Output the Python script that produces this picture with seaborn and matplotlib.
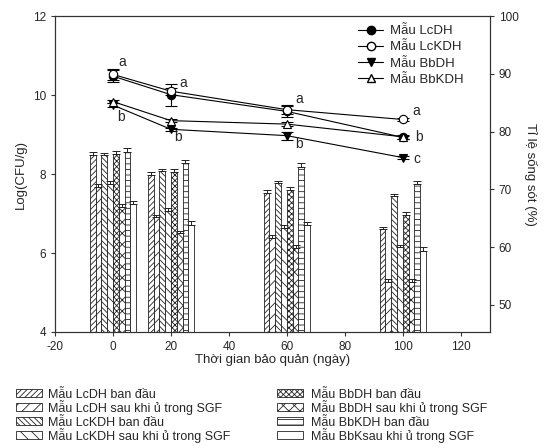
import matplotlib
matplotlib.use("Agg")
import matplotlib.pyplot as plt
from matplotlib.patches import Rectangle
from matplotlib.lines import Line2D
import pandas as pd
import seaborn as sns

# Storage days
days = [0, 20, 60, 100]

# Log(CFU/g) bars, left axis
lcdh_bd = [8.48, 7.98, 7.52, 6.60]
lcdh_sgf = [7.68, 6.90, 6.38, 5.27]
lckdh_bd = [8.48, 8.07, 7.77, 7.44]
lckdh_sgf = [7.76, 7.07, 6.63, 6.15]
bbdh_bd = [8.52, 8.05, 7.60, 6.96]
bbdh_sgf = [7.17, 6.50, 6.13, 5.27]
bbkdh_bd = [8.57, 8.28, 8.17, 7.74]
bbk_sgf = [7.25, 6.72, 6.70, 6.06]

lcdh_bd_err = [0.07, 0.08, 0.08, 0.07]
lcdh_sgf_err = [0.06, 0.06, 0.07, 0.06]
lckdh_bd_err = [0.06, 0.07, 0.06, 0.06]
lckdh_sgf_err = [0.07, 0.07, 0.08, 0.06]
bbdh_bd_err = [0.07, 0.07, 0.08, 0.07]
bbdh_sgf_err = [0.06, 0.06, 0.07, 0.06]
bbkdh_bd_err = [0.09, 0.08, 0.10, 0.08]
bbk_sgf_err = [0.07, 0.10, 0.08, 0.09]

bar_names = ["Mẫu LcDH ban đầu", "Mẫu LcDH sau khi ủ trong SGF",
             "Mẫu LcKDH ban đầu", "Mẫu LcKDH sau khi ủ trong SGF",
             "Mẫu BbDH ban đầu", "Mẫu BbDH sau khi ủ trong SGF",
             "Mẫu BbKDH ban đầu", "Mẫu BbKsau khi ủ trong SGF"]
bar_vals = [lcdh_bd, lcdh_sgf, lckdh_bd, lckdh_sgf, bbdh_bd, bbdh_sgf, bbkdh_bd, bbk_sgf]
bar_errs = [lcdh_bd_err, lcdh_sgf_err, lckdh_bd_err, lckdh_sgf_err,
            bbdh_bd_err, bbdh_sgf_err, bbkdh_bd_err, bbk_sgf_err]
hatches = ["//////", "///", "\\\\\\\\\\\\", "\\\\\\", "xxxxxx", "xxx", "---", ""]

# Survival rate (%), right axis
line_names = ["Mẫu LcDH", "Mẫu LcKDH", "Mẫu BbDH", "Mẫu BbKDH"]
lcdh_surv = [89.6, 86.4, 83.5, 79.0]
lckdh_surv = [89.9, 87.0, 83.8, 82.1]
bbdh_surv = [84.6, 80.4, 79.3, 75.5]
bbkdh_surv = [85.2, 81.9, 81.3, 79.1]
lcdh_surv_err = [1.0, 1.9, 0.9, 0.3]
lckdh_surv_err = [0.9, 0.6, 0.8, 0.3]
bbdh_surv_err = [0.4, 0.3, 0.7, 0.3]
bbkdh_surv_err = [0.3, 0.3, 0.3, 0.3]

# significance letters
letters = ["a", "b", "a", "b", "a", "b", "a", "b", "c"]
letter_x = [3.2, 2.6, 24.4, 22.6, 64.2, 64.2, 104.8, 105.5, 104.8]
letter_y = [92.0, 82.5, 88.5, 79.0, 85.6, 77.8, 83.5, 79.0, 75.2]

sns.set_style("ticks")
plt.rcParams["font.family"] = ["Liberation Sans", "DejaVu Sans"]
plt.rcParams["axes.unicode_minus"] = False
plt.rcParams["hatch.linewidth"] = 0.6
plt.rcParams["xtick.labelsize"] = 8.5
plt.rcParams["ytick.labelsize"] = 8.5

df = pd.DataFrame([
    {"day": d, "sample": name, "value": v}
    for name, vals in zip(bar_names, bar_vals)
    for d, v in zip(days, vals)
])

W, H = 546, 448
fig = plt.figure(figsize=(W / 100, H / 100), dpi=100)
ax = fig.add_axes([0.1007, 0.259, 0.7963, 0.705])

sns.barplot(data=df, x="day", y="value", hue="sample", hue_order=bar_names,
            native_scale=True, errorbar=None, palette=["white"] * 8,
            edgecolor="#222222", linewidth=0.6, legend=False, ax=ax)

for cont, h, errs in zip(ax.containers, hatches, bar_errs):
    xs = []
    ys = []
    for p in cont.patches:
        p.set_hatch(h)
        xs.append(p.get_x() + p.get_width() / 2)
        ys.append(p.get_height())
    ax.errorbar(xs, ys, yerr=[[0] * len(errs), errs], fmt="none",
                ecolor="#222222", elinewidth=0.7, capsize=3, capthick=0.7)

ax.set_xlim(-20, 130)
ax.set_ylim(4, 12)
ax.set_xticks(range(-20, 121, 20))
ax.set_yticks([4, 6, 8, 10, 12])
ax.set_xlabel("Thời gian bảo quản (ngày)", fontsize=9.5, labelpad=1)
ax.set_ylabel("Log(CFU/g)", fontsize=9.5)

ax2 = ax.twinx()
surv = [lcdh_surv, lckdh_surv, bbdh_surv, bbkdh_surv]
surv_err = [lcdh_surv_err, lckdh_surv_err, bbdh_surv_err, bbkdh_surv_err]
markers = ["o", "o", "v", "^"]
faces = ["black", "white", "black", "white"]
for vals, errs, m, fc in zip(surv, surv_err, markers, faces):
    ax2.errorbar(days, vals, yerr=errs, color="black", lw=0.8, marker=m,
                 markersize=6, markerfacecolor=fc, markeredgecolor="black",
                 markeredgewidth=0.8, ecolor="black", elinewidth=0.8,
                 capsize=4, capthick=0.8)
for t, lx, ly in zip(letters, letter_x, letter_y):
    ax2.text(lx, ly, t, fontsize=10, ha="center", va="center")

ax2.set_ylim(45.3, 100)
ax2.set_yticks(range(50, 101, 10))
ax2.set_ylabel("Tỉ lệ sống sót (%)", fontsize=9.5, rotation=270, labelpad=13)

handles = [Line2D([], [], color="black", lw=0.8, marker=m, markersize=6,
                  markerfacecolor=fc, markeredgecolor="black")
           for m, fc in zip(markers, faces)]
ax2.legend(handles, line_names, loc="upper left", bbox_to_anchor=(0.697, 0.972),
           frameon=False, fontsize=9.5, handlelength=1.9, handletextpad=0.5,
           labelspacing=0.3, borderaxespad=0, borderpad=0)

for a in (ax, ax2):
    for s in a.spines.values():
        s.set_linewidth(0.8)
        s.set_color("#333333")
    a.tick_params(width=0.8, length=3, color="#333333")

# bar legend below the plot, two columns, evenly spaced rows
row_px = [393, 407, 421, 435]
cols = [(16, 48), (277, 311)]
for i, (name, h) in enumerate(zip(bar_names, hatches)):
    hx, tx = cols[i // 4]
    yc = 1 - row_px[i % 4] / H
    fig.add_artist(Rectangle((hx / W, yc - 4 / H), 26 / W, 8 / H,
                             transform=fig.transFigure, facecolor="white",
                             edgecolor="#222222", hatch=h, linewidth=0.6))
    fig.text(tx / W, yc - 4.5 / H, name, fontsize=9, va="baseline", ha="left")

fig.savefig("out.png", dpi=100)
